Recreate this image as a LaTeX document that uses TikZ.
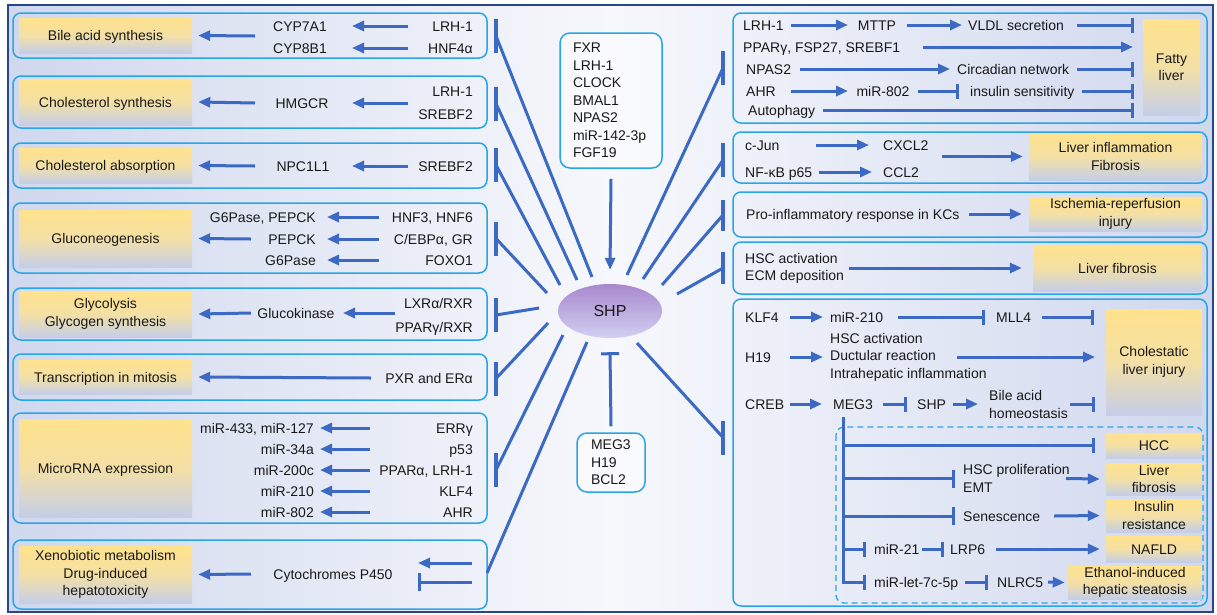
\documentclass[tikz,border=0pt]{standalone}
\usepackage{fontspec}
\setmainfont{Liberation Sans}
\usetikzlibrary{arrows.meta,shapes.geometric}
\definecolor{ablue}{RGB}{59,105,196}
\definecolor{pblue}{RGB}{40,165,230}
\definecolor{frameblue}{RGB}{40,70,140}
\definecolor{ytop}{RGB}{255,226,140}
\definecolor{ymid}{RGB}{244,224,165}
\definecolor{ybot}{RGB}{196,206,232}
\definecolor{bgedge}{RGB}{208,216,238}
\definecolor{bgmid}{RGB}{247,248,252}
\definecolor{shptop}{RGB}{168,136,204}
\definecolor{shpbot}{RGB}{208,208,242}
\definecolor{txt}{RGB}{25,25,25}
\begin{document}
\begin{tikzpicture}[x=1pt,y=-1pt,
  every node/.style={font=\fontsize{14pt}{17.5pt}\selectfont, inner sep=0pt, text height=10pt, text depth=0pt, text=txt},
  ml/.style={text height=, text depth=},
  panel/.style={draw=pblue, line width=1.5pt, rounded corners=8pt},
  ybox/.style={top color=ytop, bottom color=ybot, middle color=ymid, align=center},
  cbox/.style={draw=pblue, line width=1.5pt, rounded corners=10pt, align=left, fill=white, fill opacity=0.4, text opacity=1, ml},
  act/.style={draw=ablue, line width=3pt, -{Triangle[length=12pt,width=10pt]}},
  inh/.style={draw=ablue, line width=3pt, -{Bar[width=15pt]}},
  inhL/.style={draw=ablue, line width=3pt, -{Bar[width=18pt]}},
  link/.style={draw=ablue, line width=3pt},
  bigbar/.style={rectangle, fill=ablue, minimum width=3.5pt, minimum height=34pt},
]
\useasboundingbox (0,0) rectangle (1217,614);
\fill[white] (0,0) rectangle (1217,614);
\shade[left color=bgedge, right color=bgedge, middle color=bgmid] (8,5) rectangle (1213,612);
\draw[frameblue, line width=1.5pt] (8,5) rectangle (1213,612);

% panels
\foreach \a/\b/\c/\d in {13/13/487/58, 13/76/487/128, 13/143/487/188, 13/203/487/273, 13/288/487/340, 13/354/487/400, 13/413/487/523, 13/540/487/609, 733/13/1207/123, 733/132/1207/183, 733/192/1207/237, 733/242/1207/294, 733/299/1207/606}
  \draw[panel] (\a,\b) rectangle (\c,\d);
\draw[panel, line width=1.3pt, dashed, dash pattern=on 6pt off 4pt] (836,427) rectangle (1203,603);

%%%%%%%%%%%%%%%% LEFT %%%%%%%%%%%%%%%%
% P1
\node[ybox, minimum width=173pt, minimum height=35pt] (y1) at (105.5,35.5) {Bile acid synthesis};
\node (cyp7) at (300,26) {CYP7A1};
\node (cyp8) at (300,48) {CYP8B1};
\node[anchor=east] (lrh1a) at (473,26) {LRH-1};
\node[anchor=east] (hnf4) at (473,48) {HNF4α};
\coordinate (g1) at (300,36);
\draw[act] ([xshift=-65pt]lrh1a.east) -- ([xshift=52pt]cyp7.center);
\draw[act] ([xshift=-65pt]hnf4.east) -- ([xshift=52pt]cyp8.center);
\draw[act] ([xshift=-45pt]g1) -- ([xshift=6pt]y1.east);
% P2
\node[ybox, minimum width=173pt, minimum height=46pt] (y2) at (105.5,102) {Cholesterol synthesis};
\node (hmgcr) at (302,103) {HMGCR};
\node[anchor=east] (lrh1b) at (473,91) {LRH-1};
\node[anchor=east] (srebf2a) at (473,114) {SREBF2};
\coordinate (g2) at (473,103);
\draw[act] ([xshift=-65pt]g2) -- ([xshift=50pt]hmgcr.center);
\draw[act] ([xshift=-47pt]hmgcr.center) -- ([xshift=6pt]y2.east);
% P3
\node[ybox, minimum width=173pt, minimum height=35pt] (y3) at (105.5,165.5) {Cholesterol absorption};
\node (npc) at (303,166) {NPC1L1};
\node[anchor=east] (srebf2b) at (473,166) {SREBF2};
\draw[act] ([xshift=-65pt]srebf2b.east) -- ([xshift=49pt]npc.center);
\draw[act] ([xshift=-48pt]npc.center) -- ([xshift=6pt]y3.east);
% P4
\node[ybox, minimum width=173pt, minimum height=57pt] (y4) at (105.5,238.5) {Gluconeogenesis};
\node[anchor=east] (g6pep) at (316,217) {G6Pase, PEPCK};
\node[anchor=east] (pepck) at (316,239) {PEPCK};
\node[anchor=east] (g6p) at (316,260) {G6Pase};
\node[anchor=east] (hnf36) at (473,217) {HNF3, HNF6};
\node[anchor=east] (cebp) at (473,239) {C/EBPα, GR};
\node[anchor=east] (foxo) at (473,260) {FOXO1};
\draw[act] ([xshift=-94pt]hnf36.east) -- ([xshift=11pt]g6pep.east);
\draw[act] ([xshift=-94pt]cebp.east) -- ([xshift=11pt]pepck.east);
\draw[act] ([xshift=-94pt]foxo.east) -- ([xshift=11pt]g6p.east);
\draw[act] ([xshift=-65pt]pepck.east) -- ([xshift=6pt]y4.east);
% P5
\node[ybox, ml, minimum width=173pt, minimum height=46pt] (y5) at (105.5,314) {Glycolysis\\Glycogen synthesis};
\node (gk) at (296,313) {Glucokinase};
\node[anchor=east] (lxr) at (473,303) {LXRα/RXR};
\node[anchor=east] (ppgr) at (473,327) {PPARγ/RXR};
\coordinate (g5) at (473,313);
\draw[act] ([xshift=-78pt]g5) -- ([xshift=47pt]gk.center);
\draw[act] ([xshift=-45pt]gk.center) -- ([xshift=6pt]y5.east);
% P6
\node[ybox, minimum width=173pt, minimum height=34pt] (y6) at (105.5,377) {Transcription in mitosis};
\node[anchor=east] (pxr) at (473,378) {PXR and ERα};
\draw[act] ([xshift=-102pt]pxr.east) -- ([xshift=6pt]y6.east);
% P7
\node[ybox, minimum width=173pt, minimum height=98pt] (y7) at (105.5,468) {MicroRNA expression};
\node[anchor=east] (m433) at (314,428) {miR-433, miR-127};
\node[anchor=east] (m34) at (314,449) {miR-34a};
\node[anchor=east] (m200) at (314,470) {miR-200c};
\node[anchor=east] (m210) at (314,491) {miR-210};
\node[anchor=east] (m802) at (314,512) {miR-802};
\node[anchor=east] (errg) at (473,428) {ERRγ};
\node[anchor=east] (p53) at (473,449) {p53};
\node[anchor=east] (ppara) at (473,470) {PPARα, LRH-1};
\node[anchor=east] (klf4a) at (473,491) {KLF4};
\node[anchor=east] (ahra) at (473,512) {AHR};
\draw[act] ([xshift=-103pt]errg.east) -- ([xshift=6pt]m433.east);
\draw[act] ([xshift=-103pt]p53.east) -- ([xshift=6pt]m34.east);
\draw[act] ([xshift=-103pt]ppara.east) -- ([xshift=6pt]m200.east);
\draw[act] ([xshift=-103pt]klf4a.east) -- ([xshift=6pt]m210.east);
\draw[act] ([xshift=-103pt]ahra.east) -- ([xshift=6pt]m802.east);
% P8
\node[ybox, ml, minimum width=173pt, minimum height=57pt] (y8) at (105.5,574.5) {Xenobiotic metabolism\\Drug-induced\\hepatotoxicity};
\node (cyt) at (333,574) {Cytochromes P450};
\draw[act] ([xshift=-82pt]cyt.center) -- ([xshift=6pt]y8.east);
\coordinate (x8a) at (472,563);
\coordinate (x8b) at (472,582);
\draw[act] (x8a) -- ++(-54,0);
\draw[inh, -{Bar[width=18pt]}] (x8b) -- ++(-54,0);

%%%%%%%%%%%%%%%% CENTER %%%%%%%%%%%%%%%%
\node[cbox, text width=76pt, inner xsep=13pt, minimum height=135pt] (fxr) at (611,100.5)
  {FXR\\LRH-1\\CLOCK\\BMAL1\\NPAS2\\miR-142-3p\\FGF19};
\node[ellipse, top color=shptop, bottom color=shpbot, minimum width=104pt, minimum height=54pt, font=\fontsize{16pt}{18pt}\selectfont, text height=11.5pt] (shp) at (610,311) {SHP};
\node[cbox, text width=40pt, inner xsep=14pt, minimum height=59pt] (megb) at (611,462.5) {MEG3\\H19\\BCL2};
\draw[act] ([yshift=-10pt]fxr.south) -- ([yshift=14pt]shp.north);
\draw[inhL] ([yshift=6pt]megb.north) -- ([yshift=-14pt]shp.south);

% left bars and lines
\foreach \n/\yy in {1/36, 2/103.5, 3/165, 4/238.5, 5/315, 6/378.5, 7/470}
  \node[bigbar] (lb\n) at (496,\yy) {};
\coordinate (s1) at (592,277);
\coordinate (s2) at (577,280);
\coordinate (s3) at (560,285);
\coordinate (s4) at (547,293);
\coordinate (s5) at (539,308);
\coordinate (s6) at (548,323);
\coordinate (s7) at (563,335);
\coordinate (s8) at (587,342);
\coordinate (x8e) at (487,573);
\foreach \n in {1,...,7}
  \draw[link] (s\n) -- (lb\n.center);
\draw[link] (s8) -- (x8e);

% right bars and lines
\node[bigbar] (rb1) at (723,68) {};
\node[bigbar] (rb2) at (723,160) {};
\node[bigbar, minimum height=31pt] (rb3) at (723,215) {};
\node[bigbar, minimum height=32pt] (rb4) at (723,268) {};
\node[bigbar] (rb5) at (723,437.5) {};
\coordinate (t1) at (627,275);
\coordinate (t2) at (643,279);
\coordinate (t3) at (662,285);
\coordinate (t4) at (677,294);
\coordinate (t5) at (637,343);
\foreach \n in {1,...,5}
  \draw[link] (t\n) -- (rb\n.center);

%%%%%%%%%%%%%%%% RIGHT %%%%%%%%%%%%%%%%
% R1 fatty liver
\node[ybox, ml, minimum width=57pt, minimum height=96pt] (yF) at (1171.5,67) {Fatty\\liver};
\node[anchor=west] (lrhR) at (743,25) {LRH-1};
\node (mttp) at (877,25) {MTTP};
\node[anchor=west] (vldl) at (968,25) {VLDL secretion};
\draw[act] ([xshift=48pt]lrhR.west) -- ([xshift=-29pt]mttp.center);
\draw[act] ([xshift=30pt]mttp.center) -- ([xshift=-6pt]vldl.west);
\draw[inh] ([xshift=109pt]vldl.west) -- ([xshift=166pt]vldl.west);
\node[anchor=west] (ppg2) at (743,47) {PPARγ, FSP27, SREBF1};
\draw[act] ([xshift=180pt]ppg2.west) -- ([xshift=390pt]ppg2.west);
\node[anchor=west] (npas) at (746,69) {NPAS2};
\node[anchor=west] (circ) at (957,69) {Circadian network};
\draw[act] ([xshift=54pt]npas.west) -- ([xshift=-7pt]circ.west);
\draw[inh] ([xshift=120pt]circ.west) -- ([xshift=177pt]circ.west);
\node[anchor=west] (ahr) at (746,91) {AHR};
\node (m802b) at (883,91) {miR-802};
\node[anchor=west] (ins) at (970,91) {insulin sensitivity};
\draw[act] ([xshift=45pt]ahr.west) -- ([xshift=-35pt]m802b.center);
\draw[inh] ([xshift=35pt]m802b.center) -- ([xshift=76pt]m802b.center);
\draw[inh] ([xshift=112pt]ins.west) -- ([xshift=164pt]ins.west);
\node[anchor=west] (auto) at (748,110) {Autophagy};
\draw[inh] ([xshift=75pt]auto.west) -- ([xshift=386pt]auto.west);
% R2
\node[ybox, ml, minimum width=173pt, minimum height=47pt] (yI) at (1115.5,156.5) {Liver inflammation\\Fibrosis};
\node[anchor=west] (cjun) at (745,145) {c-Jun};
\node[anchor=west] (cxcl) at (883,145) {CXCL2};
\node[anchor=west] (nfkb) at (745,172) {NF-κB p65};
\node[anchor=west] (ccl) at (883,172) {CCL2};
\draw[act] ([xshift=71pt]cjun.west) -- ([xshift=-14pt]cxcl.west);
\draw[act] ([xshift=74pt]nfkb.west) -- ([xshift=-11pt]ccl.west);
\draw[act] ([xshift=-87pt]yI.west) -- ([xshift=-6pt]yI.west);
% R3
\node[ybox, ml, minimum width=173pt, minimum height=34pt] (yIR) at (1115.5,214) {Ischemia-reperfusion\\injury};
\node[anchor=west] (pro) at (746,214) {Pro-inflammatory response in KCs};
\draw[act] ([xshift=-60pt]yIR.west) -- ([xshift=-7pt]yIR.west);
% R4
\node[ybox, minimum width=169pt, minimum height=46pt] (yLF) at (1117.5,268) {Liver fibrosis};
\node[anchor=west, align=left, ml] (hsc) at (745,268.5) {HSC activation\\ECM deposition};
\draw[act] ([xshift=-184pt]yLF.west) -- ([xshift=-11pt]yLF.west);
% R5 cholestatic
\node[ybox, ml, minimum width=96pt, minimum height=106pt] (yC) at (1154,362) {Cholestatic\\liver injury};
\node[anchor=west] (klf) at (745,317) {KLF4};
\node[anchor=west] (m210b) at (830,317) {miR-210};
\node[anchor=west] (mll) at (996,317) {MLL4};
\draw[act] ([xshift=45pt]klf.west) -- ([xshift=-7pt]m210b.west);
\draw[inh] ([xshift=68pt]m210b.west) -- ([xshift=155pt]m210b.west);
\draw[inh] ([xshift=46pt]mll.west) -- ([xshift=98pt]mll.west);
\node[anchor=west] (h19) at (745,357) {H19};
\node[anchor=west, align=left, ml] (hscg) at (830,357) {HSC activation\\Ductular reaction\\Intrahepatic inflammation};
\draw[act] ([xshift=45pt]h19.west) -- ([xshift=-7pt]hscg.west);
\draw[act] ([xshift=127pt]hscg.west) -- ([xshift=265pt]hscg.west);
\node[anchor=west] (creb) at (745,404) {CREB};
\node[anchor=west] (meg) at (833,404) {MEG3};
\node[anchor=west] (shp2) at (917,404) {SHP};
\node[anchor=west, align=left, ml] (bah) at (989,404.5) {Bile acid\\homeostasis};
\draw[act] ([xshift=45pt]creb.west) -- ([xshift=-11pt]meg.west);
\draw[inh] ([xshift=50pt]meg.west) -- ([xshift=74pt]meg.west);
\draw[act] ([xshift=36pt]shp2.west) -- ([xshift=61pt]shp2.west);
\draw[inh] ([xshift=81pt]bah.west) -- ([xshift=106pt]bah.west);
% dashed sub-box
\node[ybox, minimum width=96pt, minimum height=25pt] (hcc) at (1154,445.5) {HCC};
\node[ybox, ml, minimum width=96pt, minimum height=32pt] (yLF2) at (1154,479) {Liver\\fibrosis};
\node[ybox, ml, minimum width=96pt, minimum height=33pt] (yIns) at (1154,515.5) {Insulin\\resistance};
\node[ybox, minimum width=96pt, minimum height=26pt] (yN) at (1154,549) {NAFLD};
\node[ybox, ml, minimum width=134pt, minimum height=33pt] (yE) at (1135,582.5) {Ethanol-induced\\hepatic steatosis};
\node[anchor=west, align=left, ml] (hscp) at (963,478.5) {HSC proliferation\\EMT};
\node[anchor=west] (sen) at (963,516) {Senescence};
\node[anchor=west] (m21) at (874,549) {miR-21};
\node[anchor=west] (lrp) at (950,549) {LRP6};
\node[anchor=west] (mlet) at (874,582) {miR-let-7c-5p};
\node[anchor=west] (nlrc) at (997,582) {NLRC5};
\coordinate (tk) at (843,582);
\draw[inh] ([xshift=10pt,yshift=-8pt]meg.south west) -- (tk) -- ([xshift=-8pt]mlet.west);
\draw[inh] (tk |- hcc.west) -- ([xshift=-11pt]hcc.west);
\draw[inhL] (tk |- hscp.west) -- ([xshift=-8pt]hscp.west);
\draw[act] ([xshift=103pt]hscp.west) -- ([xshift=-6pt]yLF2.west);
\draw[inhL] (tk |- sen.west) -- ([xshift=-8pt]sen.west);
\draw[act] ([xshift=91pt]sen.west) -- ([xshift=-6pt]yIns.west);
\draw[inh] (tk |- m21.west) -- ([xshift=-8pt]m21.west);
\draw[inh] ([xshift=48pt]m21.west) -- ([xshift=-6pt]lrp.west);
\draw[act] ([xshift=46pt]lrp.west) -- ([xshift=-6pt]yN.west);
\draw[inh] ([xshift=91pt]mlet.west) -- ([xshift=114pt]mlet.west);
\draw[act] ([xshift=51pt]nlrc.west) -- ([xshift=-3pt]yE.west);
\end{tikzpicture}
\end{document}
